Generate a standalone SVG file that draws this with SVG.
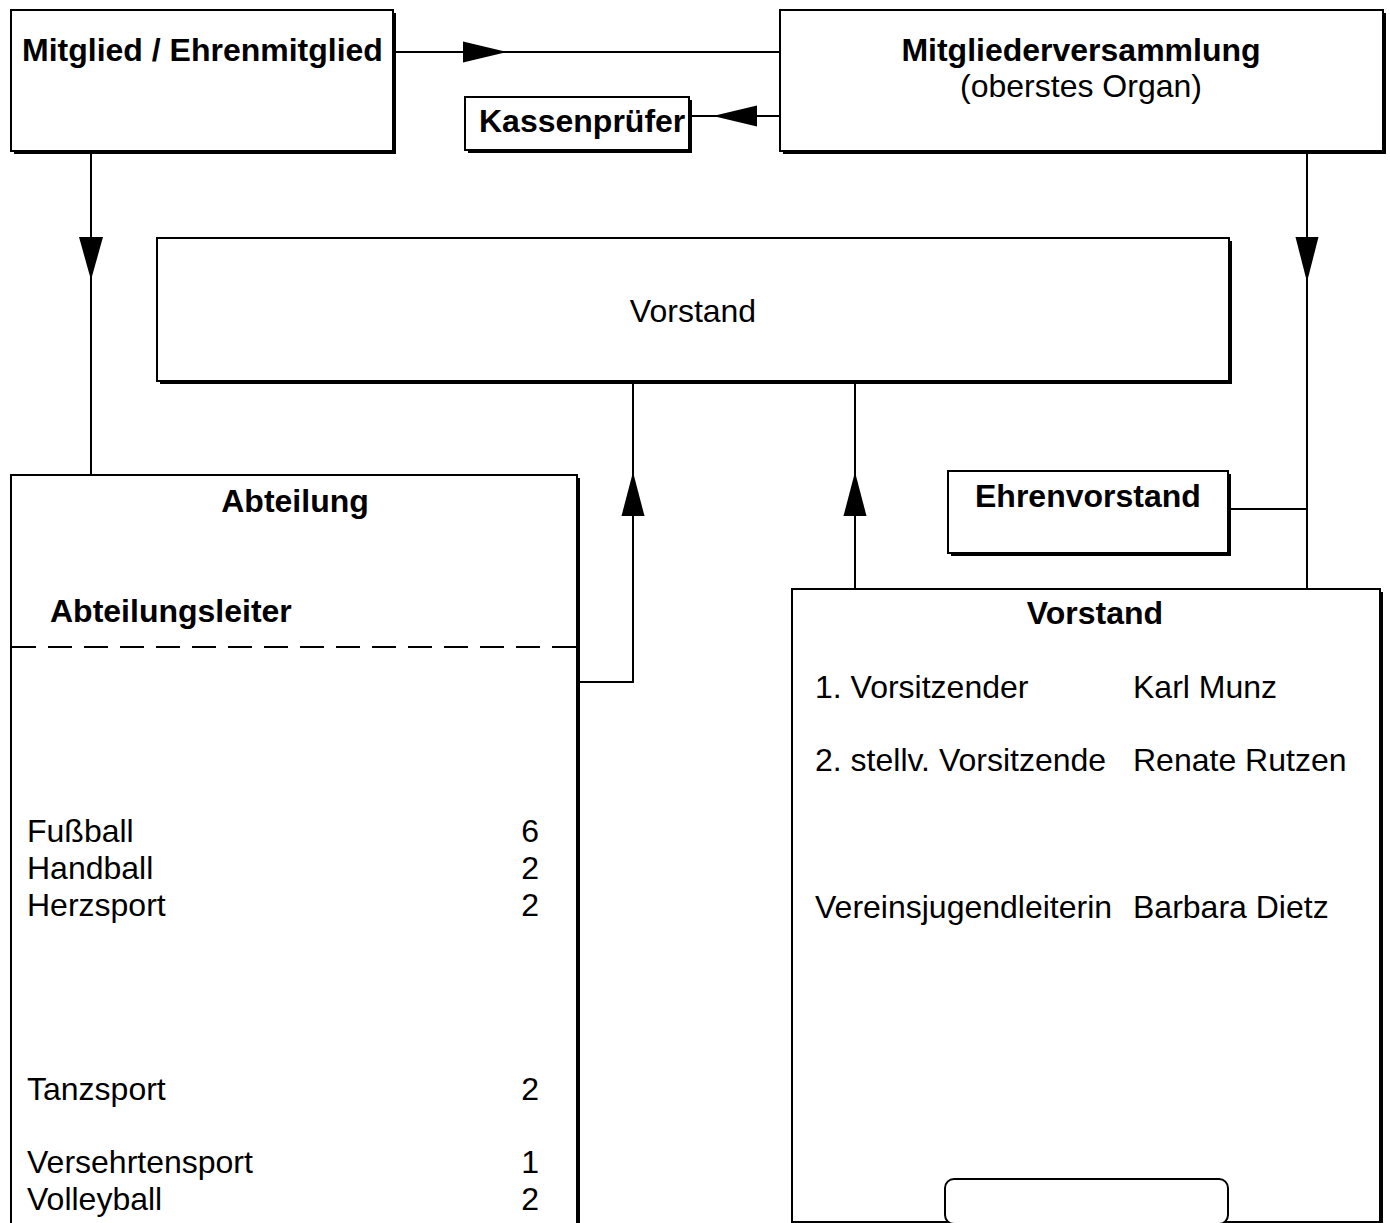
<svg xmlns="http://www.w3.org/2000/svg" width="1390" height="1223" viewBox="0 0 1390 1223">
<style>
.box{fill:#fff;stroke:#000;stroke-width:2}
.sh{fill:#000}
.ln{fill:none;stroke:#000;stroke-width:2}
.ah{fill:#000;stroke:none}
text{font-family:"Liberation Sans",Arial,sans-serif;font-size:32px;fill:#000}
.b{font-weight:bold}
.c{text-anchor:middle}
.r{text-anchor:end}
</style>
<rect width="1390" height="1223" fill="#fff"/>
<g id="connectors">
<line class="ln" x1="393" y1="52" x2="780" y2="52"/>
<polygon class="ah" points="507,52 463,41.5 463,62.5"/>
<line class="ln" x1="690" y1="116" x2="780" y2="116"/>
<polygon class="ah" points="713,116 757,105.5 757,126.5"/>
<line class="ln" x1="91" y1="151" x2="91" y2="475"/>
<polygon class="ah" points="91,280 79,237 103,237"/>
<line class="ln" x1="1307" y1="151" x2="1307" y2="589"/>
<polygon class="ah" points="1307,282 1295.5,237 1318.5,237"/>
<polyline class="ln" points="633,381 633,682 578,682"/>
<polygon class="ah" points="633,472 621.5,516 644.5,516"/>
<line class="ln" x1="855" y1="381" x2="855" y2="589"/>
<polygon class="ah" points="855,472 843.5,516 866.5,516"/>
<line class="ln" x1="1231" y1="509" x2="1307" y2="509"/>
</g>
<g id="mitglied">
<rect class="sh" x="14" y="13" width="382" height="141"/>
<rect class="box" x="11" y="10" width="382" height="141"/>
<text class="b" x="22" y="61">Mitglied / Ehrenmitglied</text>
</g>
<g id="mitgliederversammlung">
<rect class="sh" x="783" y="13" width="603" height="141"/>
<rect class="box" x="780" y="10" width="603" height="141"/>
<text class="b c" x="1081" y="61">Mitgliederversammlung</text>
<text class="c" x="1081" y="97">(oberstes Organ)</text>
</g>
<g id="kassenpruefer">
<rect class="sh" x="468" y="100" width="224" height="53"/>
<rect class="box" x="465" y="97" width="224" height="53"/>
<text class="b" x="479" y="132">Kassenprüfer</text>
</g>
<g id="vorstand-top">
<rect class="sh" x="160" y="241" width="1072" height="143"/>
<rect class="box" x="157" y="238" width="1072" height="143"/>
<text class="c" x="693" y="322">Vorstand</text>
</g>
<g id="ehrenvorstand">
<rect class="sh" x="951" y="474" width="280" height="82"/>
<rect class="box" x="948" y="471" width="280" height="82"/>
<text class="b" x="975" y="507">Ehrenvorstand</text>
</g>
<g id="abteilung">
<rect class="sh" x="14" y="478" width="566" height="800"/>
<rect class="box" x="11" y="475" width="566" height="800"/>
<text class="b c" x="295" y="512">Abteilung</text>
<text class="b" x="50" y="622">Abteilungsleiter</text>
<line x1="12" y1="647" x2="577" y2="647" stroke="#000" stroke-width="2" stroke-dasharray="24 12"/>
<text x="27" y="842">Fußball</text><text class="r" x="539" y="842">6</text>
<text x="27" y="879">Handball</text><text class="r" x="539" y="879">2</text>
<text x="27" y="916">Herzsport</text><text class="r" x="539" y="916">2</text>
<text x="27" y="1100">Tanzsport</text><text class="r" x="539" y="1100">2</text>
<text x="27" y="1173">Versehrtensport</text><text class="r" x="539" y="1173">1</text>
<text x="27" y="1210">Volleyball</text><text class="r" x="539" y="1210">2</text>
</g>
<g id="vorstand">
<rect class="sh" x="795" y="592" width="588" height="633"/>
<rect class="box" x="792" y="589" width="588" height="633"/>
<text class="b c" x="1095" y="624">Vorstand</text>
<text x="815" y="698">1. Vorsitzender</text><text x="1133" y="698">Karl Munz</text>
<text x="815" y="771">2. stellv. Vorsitzende</text><text x="1133" y="771">Renate Rutzen</text>
<text x="815" y="918">Vereinsjugendleiterin</text><text x="1133" y="918">Barbara Dietz</text>
<rect class="box" x="945" y="1179" width="283" height="45" rx="9"/>
</g>
</svg>
